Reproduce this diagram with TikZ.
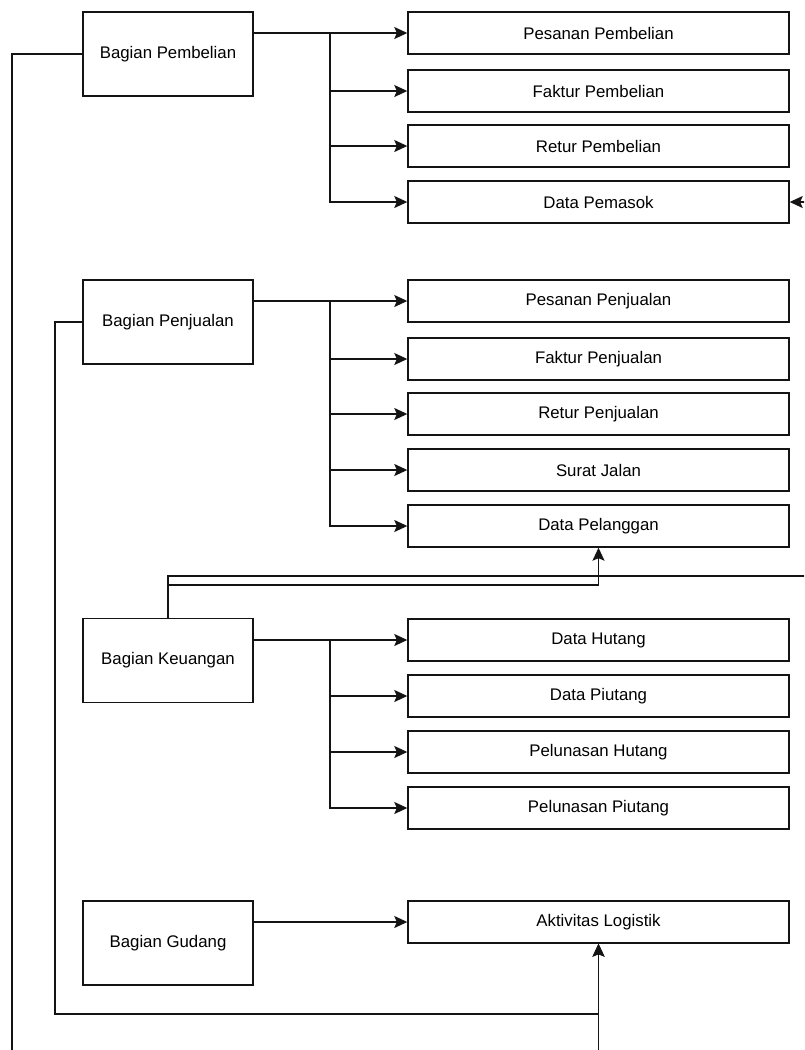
\documentclass[tikz,border=0pt]{standalone}
\usepackage{fontspec}
\setmainfont{Liberation Sans}
\usepackage{tikz}
\usetikzlibrary{arrows.meta, positioning, calc}
\definecolor{linegray}{RGB}{20, 20, 20}

\begin{document}
\begin{tikzpicture}[x=1pt, y=-1pt, font=\fontsize{16.8}{20}\selectfont,
  bagian/.style={draw=linegray, line width=1.4pt, minimum width=170pt, minimum height=84pt, inner sep=0pt},
  dokumen/.style={draw=linegray, line width=1.4pt, minimum width=381pt, minimum height=42pt, inner sep=0pt},
  arr/.style={-{Stealth[length=13pt, width=12pt, inset=2.5pt]}, line width=1.4pt, linegray}]
  \useasboundingbox (0,0) rectangle (804,1050);
  \clip (0,0) rectangle (804,1050);

  % bagian
  \node[bagian] (pemb) at (168,54) {Bagian Pembelian};
  \node[bagian] (penj) at (168,322) {Bagian Penjualan};
  \node[bagian] (keu) at (168,660.5) {Bagian Keuangan};
  \node[bagian] (gud) at (168,943) {Bagian Gudang};

  % dokumen
  \node[dokumen] (pesbeli) at (598.5,33) {Pesanan Pembelian};
  \node[dokumen] (fakbeli) at (598.5,91) {Faktur Pembelian};
  \node[dokumen] (retbeli) at (598.5,146) {Retur Pembelian};
  \node[dokumen] (pemasok) at (598.5,202) {Data Pemasok};

  \node[dokumen] (pesjual) at (598.5,301) {Pesanan Penjualan};
  \node[dokumen] (fakjual) at (598.5,359) {Faktur Penjualan};
  \node[dokumen] (retjual) at (598.5,414) {Retur Penjualan};
  \node[dokumen] (surat) at (598.5,470) {Surat Jalan};
  \node[dokumen] (pelanggan) at (598.5,526) {Data Pelanggan};

  \node[dokumen] (hutang) at (598.5,640) {Data Hutang};
  \node[dokumen] (piutang) at (598.5,696) {Data Piutang};
  \node[dokumen] (lunhutang) at (598.5,752) {Pelunasan Hutang};
  \node[dokumen] (lunpiutang) at (598.5,808) {Pelunasan Piutang};

  \node[dokumen] (logistik) at (598.5,922) {Aktivitas Logistik};

  % cabang pembelian
  \coordinate (tpemb) at (330,33);
  \draw[arr] (pemb.east |- pesbeli) -- (pesbeli.west);
  \draw[arr] (pemb.east |- pesbeli) -- (tpemb) |- (fakbeli.west);
  \draw[arr] (tpemb) |- (retbeli.west);
  \draw[arr] (tpemb) |- (pemasok.west);

  % cabang penjualan
  \coordinate (tpenj) at (330,301);
  \draw[arr] (penj.east |- pesjual) -- (pesjual.west);
  \draw[arr] (penj.east |- pesjual) -- (tpenj) |- (fakjual.west);
  \draw[arr] (tpenj) |- (retjual.west);
  \draw[arr] (tpenj) |- (surat.west);
  \draw[arr] (tpenj) |- (pelanggan.west);

  % cabang keuangan
  \coordinate (tkeu) at (330,640);
  \draw[arr] (keu.east |- hutang) -- (hutang.west);
  \draw[arr] (keu.east |- hutang) -- (tkeu) |- (piutang.west);
  \draw[arr] (tkeu) |- (lunhutang.west);
  \draw[arr] (tkeu) |- (lunpiutang.west);

  \draw[arr] (gud.east |- logistik) -- (logistik.west);

  % jalur panjang
  \draw[arr] (pemb.west) -| (12,1070) -| (logistik.south);
  \draw[arr] (penj.west) -| (55,1014) -| (logistik.south);
  \draw[arr] (keu.north) -- (168,585) -| (pelanggan.south);
  \draw[arr] (keu.north) -- (168,576) -| (820,202) -- (pemasok.east);
\end{tikzpicture}
\end{document}
